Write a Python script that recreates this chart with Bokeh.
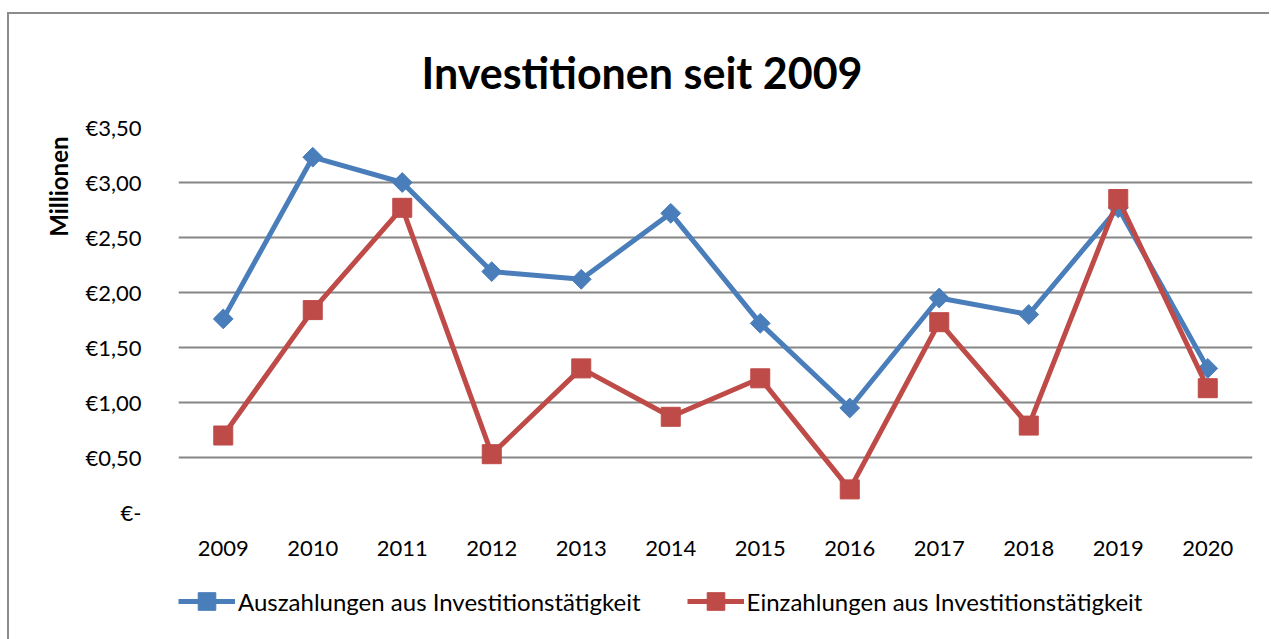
import math
from bokeh.plotting import figure
from bokeh.layouts import column
from bokeh.models import FactorRange, Range1d, FixedTicker, Title, Legend, LegendItem
from bokeh.embed import file_html
from bokeh.resources import INLINE

# ---- data ----
years = ["2009", "2010", "2011", "2012", "2013", "2014",
         "2015", "2016", "2017", "2018", "2019", "2020"]
auszahlungen = [1.76, 3.23, 3.00, 2.19, 2.12, 2.72, 1.72, 0.95, 1.95, 1.80, 2.77, 1.31]
einzahlungen = [0.70, 1.84, 2.77, 0.53, 1.31, 0.87, 1.22, 0.21, 1.73, 0.79, 2.85, 1.13]
y_ticks = [0.0, 0.5, 1.0, 1.5, 2.0, 2.5, 3.0, 3.5]
y_tick_labels = ["€-", "€0,50", "€1,00", "€1,50", "€2,00", "€2,50", "€3,00", "€3,50"]
series_names = ["Auszahlungen aus Investitionstätigkeit",
                "Einzahlungen aus Investitionstätigkeit"]
chart_title = "Investitionen seit 2009"
y_title = "Millionen"

# legend-key stand-ins (placed outside the legend strip's visible range)
key_x = [-5.0, -4.0]
key_y = [-5.0, -5.0]

BLUE = "#4A7EBB"
RED = "#BE4B48"
FONT = "Lato"
BORDER = "2px solid #8C8C8C"

# ---------------- main chart ----------------
p = figure(width=1262, height=558,
           x_range=FactorRange(*years, range_padding=0),
           y_range=Range1d(0, 3.5),
           output_backend="svg", toolbar_location=None,
           min_border_left=169, min_border_right=19,
           min_border_top=111, min_border_bottom=60)
p.styles = {"margin-left": "7px", "margin-top": "12px",
            "border-left": BORDER, "border-top": BORDER}
p.outline_line_color = None
p.background_fill_color = "white"
p.border_fill_color = "white"

p.title.text = chart_title
p.title.align = "left"
p.title.offset = 243
p.title.standoff = 60
p.title.text_font = FONT
p.title.text_font_style = "bold"
p.title.text_font_size = "43px"
p.title.text_color = "black"

p.add_layout(Title(text=y_title, align="right", offset=9, standoff=19,
                   text_font=FONT, text_font_style="bold",
                   text_font_size="24px", text_color="black"), "left")

p.xaxis.axis_line_color = None
p.xaxis.major_tick_line_color = None
p.xaxis.minor_tick_line_color = None
p.xaxis.major_label_standoff = 22
p.xaxis.major_label_text_font = FONT
p.xaxis.major_label_text_font_size = "22px"
p.xaxis.major_label_text_color = "black"

p.yaxis.axis_line_color = None
p.yaxis.major_tick_line_color = None
p.yaxis.minor_tick_line_color = None
p.yaxis.ticker = FixedTicker(ticks=y_ticks)
p.yaxis.major_label_overrides = {t: l for t, l in zip(y_ticks, y_tick_labels)}
p.yaxis.major_label_standoff = 31
p.yaxis.major_label_text_font = FONT
p.yaxis.major_label_text_font_size = "22px"
p.yaxis.major_label_text_color = "black"

p.xgrid.grid_line_color = None
p.ygrid.grid_line_color = "#868686"
p.ygrid.grid_line_width = 2

p.line(years, auszahlungen, line_color=BLUE, line_width=5)
p.scatter(years, auszahlungen, marker="square", angle=math.pi / 4,
          size=14, fill_color=BLUE, line_color=BLUE)
p.line(years, einzahlungen, line_color=RED, line_width=5)
p.scatter(years, einzahlungen, marker="square", size=19,
          fill_color=RED, line_color=RED)

# ---------------- legend strip ----------------
lg = figure(width=1262, height=70, x_range=Range1d(0, 1), y_range=Range1d(0, 1),
            output_backend="svg", toolbar_location=None,
            min_border_left=0, min_border_right=0, min_border_top=0, min_border_bottom=0)
lg.styles = {"margin-left": "7px", "border-left": BORDER}
lg.axis.visible = False
lg.grid.visible = False
lg.outline_line_color = None
lg.background_fill_color = "white"
lg.border_fill_color = "white"

k1 = lg.line(x=key_x, y=key_y, line_color=BLUE, line_width=5)
s1 = lg.scatter(x=key_x, y=key_y, marker="square", angle=math.pi / 4, size=14,
                fill_color=BLUE, line_color=BLUE)
k2 = lg.line(x=key_x, y=key_y, line_color=RED, line_width=5)
s2 = lg.scatter(x=key_x, y=key_y, marker="square", size=17,
                fill_color=RED, line_color=RED)

legend = Legend(items=[LegendItem(label=series_names[0], renderers=[k1, s1]),
                       LegendItem(label=series_names[1], renderers=[k2, s2])],
                orientation="horizontal", location=(0, 17),
                glyph_width=57, glyph_height=44, label_standoff=3,
                spacing=46, padding=0, margin=0,
                label_text_font=FONT, label_text_font_size="24px",
                label_text_color="black",
                border_line_color=None, background_fill_alpha=0)
lg.add_layout(legend, "center")

layout = column(p, lg, spacing=0)
open("out.html", "w").write(file_html(layout, INLINE))
